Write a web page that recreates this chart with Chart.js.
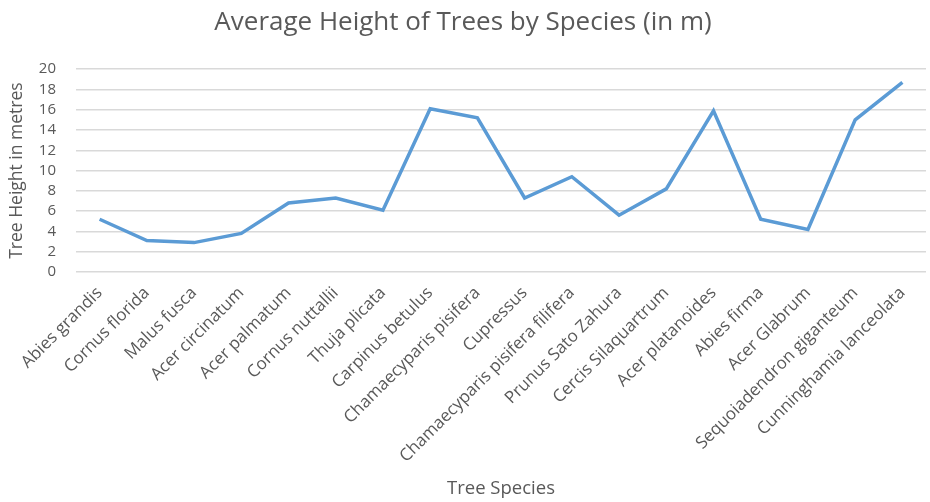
<!DOCTYPE html>
<html>
<head>
<meta charset="utf-8">
<script src="https://cdn.jsdelivr.net/npm/chart.js@4/dist/chart.umd.min.js"></script>
<style>
  html, body { margin: 0; padding: 0; background: #ffffff; }
  #wrap { width: 930px; height: 502px; position: relative; }
</style>
</head>
<body>
<div id="wrap"><canvas id="c"></canvas></div>
<script>
const species = [
  "Abies grandis", "Cornus florida", "Malus fusca", "Acer circinatum",
  "Acer palmatum", "Cornus nuttallii", "Thuja plicata", "Carpinus betulus",
  "Chamaecyparis pisifera", "Cupressus", "Chamaecyparis pisifera filifera",
  "Prunus Sato Zahura", "Cercis Silaquartrum", "Acer platanoides",
  "Abies firma", "Acer Glabrum", "Sequoiadendron giganteum", "Cunninghamia lanceolata"
];
const heights = [5.2, 3.1, 2.9, 3.8, 6.8, 7.3, 6.1, 16.1, 15.2, 7.3, 9.4, 5.6, 8.2, 15.9, 5.2, 4.2, 15.0, 18.7];
const yTicks = [0, 2, 4, 6, 8, 10, 12, 14, 16, 18, 20];

const textColor = '#595959';
const fontFamily = '"Open Sans", "Liberation Sans", sans-serif';

new Chart(document.getElementById('c'), {
  type: 'line',
  data: {
    labels: species,
    datasets: [{
      label: 'Average Height',
      data: heights,
      borderColor: '#5B9BD5',
      backgroundColor: '#5B9BD5',
      borderWidth: 3.5,
      pointRadius: 0,
      tension: 0,
      fill: false
    }]
  },
  options: {
    responsive: true,
    maintainAspectRatio: false,
    animation: false,
    devicePixelRatio: 1,
    layout: { padding: { left: 0, right: 4, top: 0, bottom: 0 } },
    plugins: {
      legend: { display: false },
      tooltip: { enabled: false },
      title: {
        display: true,
        text: 'Average Height of Trees by Species (in m)',
        color: textColor,
        font: { family: fontFamily, size: 26, weight: 'normal' },
        padding: { top: 7, bottom: 31 }
      }
    },
    scales: {
      x: {
        offset: true,
        grid: { display: false, drawTicks: false },
        border: { display: false },
        ticks: {
          color: textColor,
          font: { family: fontFamily, size: 17 },
          minRotation: 45,
          maxRotation: 45,
          autoSkip: false,
          padding: 11
        },
        title: {
          display: true,
          text: 'Tree Species',
          color: textColor,
          font: { family: fontFamily, size: 18.5 },
          padding: 2
        },
        afterFit: (s) => { s.height = 230; }
      },
      y: {
        min: 0,
        max: 20,
        afterBuildTicks: (s) => { s.ticks = yTicks.map(v => ({ value: v })); },
        grid: { color: '#d9d9d9', lineWidth: 1.5, drawTicks: false },
        border: { display: false },
        ticks: {
          color: textColor,
          font: { family: fontFamily, size: 15 },
          padding: 20,
          autoSkip: false
        },
        title: {
          display: true,
          text: 'Tree Height in metres',
          color: textColor,
          font: { family: fontFamily, size: 17.5 },
          padding: 7
        },
        afterFit: (s) => { s.width = 76; }
      }
    }
  }
});
</script>
</body>
</html>
